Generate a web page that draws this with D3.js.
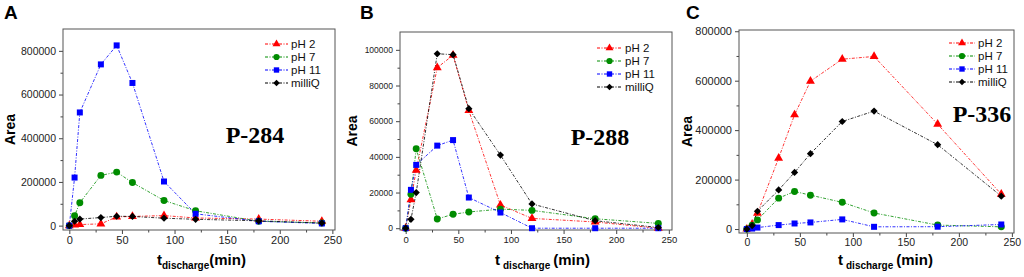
<!DOCTYPE html>
<html><head><meta charset="utf-8">
<script src="https://cdn.jsdelivr.net/npm/d3@7"></script>
<style>body{margin:0;background:#fff}svg{display:block}</style>
</head><body>
<svg id="c" width="1024" height="277"></svg>
<script>
const times = [0, 5, 10, 30, 45, 60, 90, 120, 180, 240];
const seriesNames = ["pH 2", "pH 7", "pH 11", "milliQ"];
const xTicks = [0, 50, 100, 150, 200, 250];

// Panel A (P-284)
const A_pH2   = [0, 3000, 5000, 8000, 40000, 42000, 46000, 35000, 30000, 20000];
const A_pH7   = [0, 45000, 105000, 230000, 245000, 197000, 115000, 68000, 20000, 12000];
const A_pH11  = [0, 220000, 518000, 738000, 825000, 653000, 202000, 54000, 20000, 10000];
const A_milliQ= [0, 20000, 30000, 37000, 43000, 42000, 34000, 29000, 22000, 12000];
const A_yTicks = [0, 200000, 400000, 600000, 800000];

// Panel B (P-288)
const B_pH2   = [0, 16000, 32500, 90000, 97000, 66000, 13000, 5500, 3500, 0];
const B_pH7   = [0, 19000, 44500, 5200, 7800, 9100, 10700, 10000, 5300, 2700];
const B_pH11  = [0, 21500, 35500, 46300, 49400, 17200, 8800, 0, 0, 0];
const B_milliQ= [0, 5000, 20000, 97800, 97300, 67000, 41000, 13600, 4200, 400];
const B_yTicks = [0, 20000, 40000, 60000, 80000, 100000];

// Panel C (P-336)
const C_pH2   = [0, 20000, 64000, 287000, 462000, 598000, 687000, 698000, 424000, 141000];
const C_pH7   = [0, 15000, 37000, 125000, 152000, 137000, 108000, 65000, 16000, 9000];
const C_pH11  = [0, 2000, 6000, 16000, 22500, 26700, 39000, 9000, 9500, 18500];
const C_milliQ= [0, 14000, 72000, 158000, 229000, 305000, 435000, 477000, 341000, 133000];
const C_yTicks = [0, 200000, 400000, 600000, 800000];

const colors = ["#ff0000", "#008c00", "#0000ff", "#000000"];
const symbols = [d3.symbolTriangle, d3.symbolCircle, d3.symbolSquare, d3.symbolSquare];
const symSizes = [34, 38, 36, 26];
const symRot = [0, 0, 0, 45];

const svg = d3.select("#c");

function symPath(i, s) {
  return d3.symbol().type(symbols[i]).size(s || symSizes[i])();
}

function panel(cfg) {
  const g = svg.append("g");
  const x = d3.scaleLinear().domain(cfg.xd).range([cfg.l, cfg.r]);
  const y = d3.scaleLinear().domain(cfg.yd).range([cfg.b, cfg.t]);

  // axes
  const yMinor = d3.range(cfg.yMinorStep, cfg.yd[1], cfg.yMinorStep).filter(v => !cfg.yTicks.includes(v));
  const xMinor = d3.range(25, 251, 50);
  const ax = g.append("g").attr("transform", `translate(0,${cfg.b})`)
    .call(d3.axisBottom(x).tickValues(xTicks).tickSize(4).tickPadding(2).tickFormat(d3.format("d")));
  ax.select(".domain").remove();
  ax.selectAll("text").attr("font-family", "Arial, 'Liberation Sans', sans-serif").attr("font-size", cfg.xfs).attr("fill", "#222");
  ax.selectAll("line").attr("stroke", "#444");
  const axm = g.append("g").attr("transform", `translate(0,${cfg.b})`)
    .call(d3.axisBottom(x).tickValues(xMinor).tickSize(2.5).tickFormat(""));
  axm.select(".domain").remove(); axm.selectAll("line").attr("stroke", "#444");

  const ay = g.append("g").attr("transform", `translate(${cfg.l},0)`)
    .call(d3.axisLeft(y).tickValues(cfg.yTicks).tickSize(4).tickPadding(3).tickFormat(d3.format("d")));
  ay.select(".domain").remove();
  ay.selectAll("text").attr("font-family", "Arial, 'Liberation Sans', sans-serif").attr("font-size", cfg.yfs).attr("fill", "#222");
  ay.selectAll("line").attr("stroke", "#444");
  const aym = g.append("g").attr("transform", `translate(${cfg.l},0)`)
    .call(d3.axisLeft(y).tickValues(yMinor).tickSize(2.5).tickFormat(""));
  aym.select(".domain").remove(); aym.selectAll("line").attr("stroke", "#444");

  // frame
  g.append("rect").attr("x", cfg.l).attr("y", cfg.t).attr("width", cfg.r - cfg.l).attr("height", cfg.b - cfg.t)
    .attr("fill", "none").attr("stroke", "#555").attr("stroke-width", 1);

  // series
  const line = d3.line().x((d, i) => x(times[i])).y(d => y(d));
  cfg.series.forEach((vals, i) => {
    g.append("path").attr("d", line(vals)).attr("fill", "none").attr("stroke", colors[i])
      .attr("stroke-width", 1).attr("stroke-dasharray", "3,1.5,1,1.5").attr("opacity", 0.8);
  });
  cfg.series.forEach((vals, i) => {
    g.selectAll(null).data(vals).enter().append("path")
      .attr("d", symPath(i))
      .attr("transform", (d, j) => `translate(${x(times[j])},${y(d)}) rotate(${symRot[i]})`)
      .attr("fill", colors[i]);
  });

  // legend
  seriesNames.forEach((n, i) => {
    const yy = cfg.legY + i * cfg.legDy;
    g.append("line").attr("x1", cfg.legX).attr("x2", cfg.legX + cfg.legW).attr("y1", yy).attr("y2", yy)
      .attr("stroke", colors[i]).attr("stroke-width", 1).attr("stroke-dasharray", "3,1.5,1,1.5");
    g.append("path").attr("d", symPath(i, symSizes[i] * 0.8))
      .attr("transform", `translate(${cfg.legX + cfg.legW / 2},${yy}) rotate(${symRot[i]})`).attr("fill", colors[i]);
    g.append("text").attr("x", cfg.legX + cfg.legW + 3).attr("y", yy + 4)
      .attr("font-family", "Arial, 'Liberation Sans', sans-serif").attr("font-size", 11.5).attr("fill", "#111").text(n);
  });

  // sample label
  g.append("text").attr("x", cfg.pX).attr("y", cfg.pY).attr("text-anchor", "middle")
    .attr("font-family", "'Liberation Serif', 'Times New Roman', serif").attr("font-weight", "bold")
    .attr("font-size", 24).attr("fill", "#000").text(cfg.name);

  // panel letter
  g.append("text").attr("x", cfg.letX).attr("y", 19)
    .attr("font-family", "Arial, 'Liberation Sans', sans-serif").attr("font-weight", "bold")
    .attr("font-size", 19).attr("fill", "#000").text(cfg.letter);

  // y title
  g.append("text").attr("transform", `translate(${cfg.ytX},${(cfg.t + cfg.b) / 2}) rotate(-90)`)
    .attr("text-anchor", "middle")
    .attr("font-family", "Arial, 'Liberation Sans', sans-serif").attr("font-weight", "bold")
    .attr("font-size", 14).attr("fill", "#000").text("Area");

  // x title
  const xt = g.append("text").attr("x", cfg.xtX).attr("y", 265)
    .attr("font-family", "Arial, 'Liberation Sans', sans-serif").attr("font-weight", "bold")
    .attr("font-size", 15).attr("fill", "#000");
  xt.append("tspan").text("t");
  xt.append("tspan").attr("dy", 4).attr("font-size", 10).attr("dx", cfg.sp ? 3 : 0).text("discharge");
  xt.append("tspan").attr("dy", -4).attr("dx", cfg.sp ? 3 : 0).text("(min)");
}

panel({l: 63, r: 335, t: 29, b: 230, xd: [-6, 252.5], yd: [-20000, 900000], yTicks: A_yTicks, yMinorStep: 100000,
  series: [A_pH2, A_pH7, A_pH11, A_milliQ], xfs: 11, yfs: 10.5,
  legX: 265, legW: 23, legY: 44, legDy: 13, pX: 255, pY: 143, name: "P-284", letX: 4, letter: "A",
  ytX: 15, xtX: 157, sp: false});

panel({l: 400, r: 672, t: 32, b: 230, xd: [-5.4, 253], yd: [-1000, 110000], yTicks: B_yTicks, yMinorStep: 10000,
  series: [B_pH2, B_pH7, B_pH11, B_milliQ], xfs: 9.5, yfs: 8.5,
  legX: 597, legW: 25, legY: 48, legDy: 13, pX: 600, pY: 145, name: "P-288", letX: 360, letter: "B",
  ytX: 357, xtX: 495, sp: true});

panel({l: 739, r: 1014, t: 30, b: 233, xd: [-7.4, 252], yd: [-16000, 805000], yTicks: C_yTicks, yMinorStep: 100000,
  series: [C_pH2, C_pH7, C_pH11, C_milliQ], xfs: 10.5, yfs: 11,
  legX: 949, legW: 26, legY: 43, legDy: 13, pX: 982, pY: 122, name: "P-336", letX: 686, letter: "C",
  ytX: 692, xtX: 838, sp: true});
</script>
</body></html>
